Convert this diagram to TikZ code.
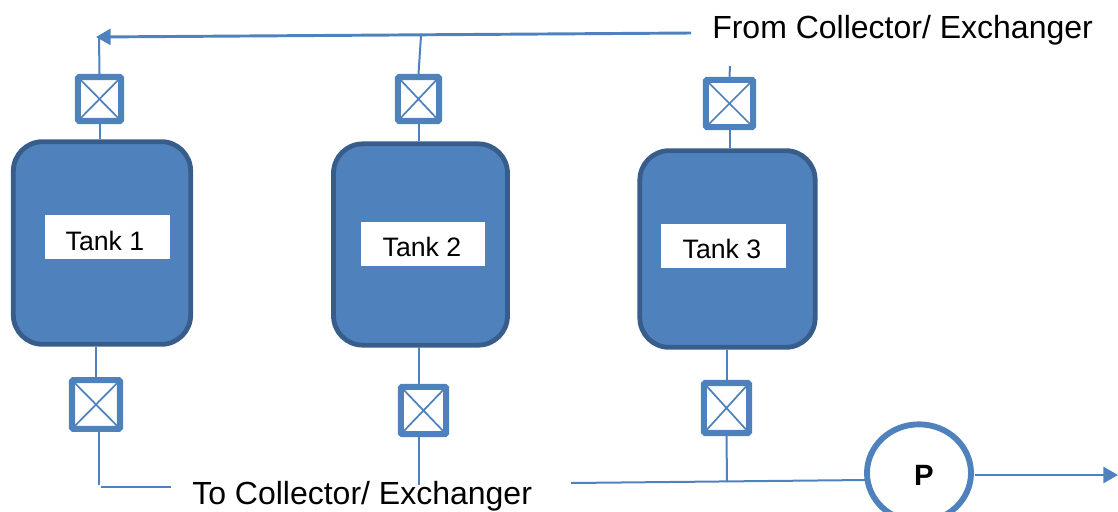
\documentclass[tikz,border=0pt]{standalone}
\usepackage{fontspec}
\setmainfont{Liberation Sans}
\usetikzlibrary{arrows.meta,shapes.geometric}
\definecolor{blueline}{HTML}{4F81BD}
\definecolor{bluedark}{HTML}{385D8A}
\tikzset{
  tankbox/.style={draw=bluedark,fill=blueline,line width=3.6pt,rounded corners=22pt,minimum width=#1,inner sep=0pt},
  tanklabel/.style={fill=white,minimum width=93.5pt,minimum height=33pt,inner sep=0pt},
  tanktext/.style={inner sep=0pt,font=\fontsize{20}{24}\selectfont,text=black},
  valvebox/.style={draw=blueline,fill=white,line width=4.6pt,rounded corners=1pt,inner sep=0pt,
    path picture={\draw[blueline,line width=1.3pt]
      (path picture bounding box.south west)--(path picture bounding box.north east)
      (path picture bounding box.north west)--(path picture bounding box.south east);}},
  pipe/.style={draw=blueline,line width=1.5pt},
  mainpipe/.style={draw=blueline,line width=2.2pt},
  caption/.style={inner sep=0pt,text=black,font=\fontsize{24}{28}\selectfont},
  pumpbox/.style={draw=blueline,fill=white,line width=4.4pt,ellipse,inner sep=0pt,minimum width=78pt,minimum height=73pt},
  pumptext/.style={inner sep=0pt,font=\fontsize{22}{26}\selectfont\bfseries,text=black},
}
\begin{document}
\begin{tikzpicture}[x=0.75pt,y=-0.75pt]
\useasboundingbox (0,0) rectangle (1118,511);
\clip (0,0) rectangle (1118,511);
% tanks
\node[tankbox=133pt,minimum height=152pt] (t1) at (102,243) {};
\node[tankbox=130.5pt,minimum height=151pt] (t2) at (420.5,244.5) {};
\node[tankbox=131.5pt,minimum height=147.5pt] (t3) at (727.5,249) {};
\node[tanklabel] (l1) at (107.5,237) {};
\node[tanklabel] (l2) at (423,243.5) {};
\node[tanklabel] (l3) at (723.5,246) {};
\node[tanktext] (n1) at (105,241) {Tank 1};
\node[tanktext] (n2) at (422,247) {Tank 2};
\node[tanktext] (n3) at (722,249) {Tank 3};
% valves
\node[valvebox,minimum width=32.5pt,minimum height=33pt] (v1) at (99.5,99) {};
\node[valvebox,minimum width=31pt,minimum height=33pt] (v2) at (418.5,99) {};
\node[valvebox,minimum width=35.5pt,minimum height=35.5pt] (v3) at (729.5,103.5) {};
\node[valvebox,minimum width=36pt,minimum height=36.5pt] (v4) at (96,404.5) {};
\node[valvebox,minimum width=34pt,minimum height=35.5pt] (v5) at (423.5,410.5) {};
\node[valvebox,minimum width=34pt,minimum height=37.5pt] (v6) at (726.5,408) {};
% pump
\node[pumpbox] (p) at (919,473) {};
\node[pumptext] (ptext) at (924,475) {P};
% captions
\node[caption,anchor=base west] (from) at (712,38) {From Collector/ Exchanger};
\node[caption,anchor=base west] (to) at (192,504) {To Collector/ Exchanger};
% free ends
\coordinate (topr) at (691,33);
\coordinate (topl) at (96,37);
\coordinate (j1) at (99,37);
\coordinate (j2) at (421,36);
\coordinate (s3) at (730,66);
\coordinate (b1) at (99,485);
\coordinate (b1a) at (101,487);
\coordinate (b1b) at (171,487);
\coordinate (b2) at (419,485);
\coordinate (b3) at (727,482);
\coordinate (bs) at (571,483);
\coordinate (pin) at (866,480);
\coordinate (pout) at (975,475);
\coordinate (pend) at (1118,475);
% connectors
\draw[mainpipe,-{Triangle[length=11pt,width=12pt]}] (topr) -- (topl);
\draw[pipe] (j1) -- (v1.north);
\draw[pipe] (v1.south) -- (v1.south |- t1.north);
\draw[pipe] (j2) -- (v2.north);
\draw[pipe] (v2.south) -- (v2.south |- t2.north);
\draw[pipe] (s3) -- (v3.north);
\draw[pipe] (v3.south) -- (v3.south |- t3.north);
\draw[pipe] (v4.north) -- (v4.north |- t1.south);
\draw[pipe] (v4.south) ++(3,0) -- (b1);
\draw[pipe] (b1a) -- (b1b);
\draw[pipe] (419,347) -- (419,384);
\draw[pipe] (419,437) -- (b2);
\draw[pipe] (v6.north) -- (v6.north |- t3.south);
\draw[pipe] (v6.south) -- (b3);
\draw[pipe] (bs) -- (pin);
\draw[mainpipe,-{Triangle[length=11pt,width=12pt]}] (pout) -- (pend);
\end{tikzpicture}
\end{document}
